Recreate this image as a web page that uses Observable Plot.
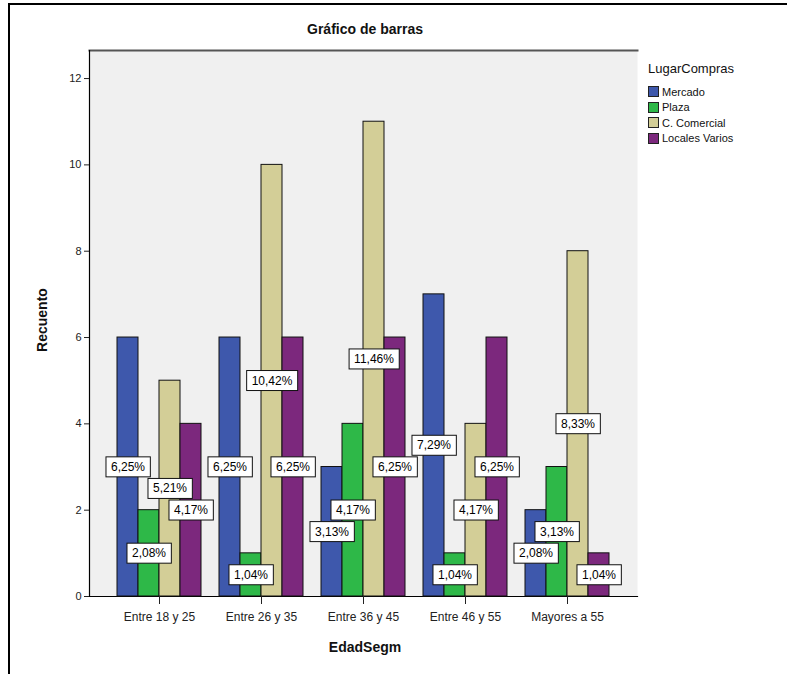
<!DOCTYPE html>
<html>
<head>
<meta charset="utf-8">
<script src="https://cdn.jsdelivr.net/npm/d3@7"></script>
<script src="https://cdn.jsdelivr.net/npm/@observablehq/plot@0.6"></script>
<style>
  body { margin: 0; background: #fff; font-family: "Liberation Sans", Arial, sans-serif; }
  #wrap { position: relative; width: 787px; height: 674px; overflow: hidden; background: #fff; }
  #frame { position: absolute; left: 8px; top: 3px; width: 790px; height: 700px; border-top: 2px solid #000; border-left: 2px solid #000; }
  .layer { position: absolute; left: 0; top: 0; }
  .title { position: absolute; left: 265px; width: 200px; top: 21px; text-align: center; font-weight: bold; font-size: 14px; color: #111; }
  .xlab { position: absolute; left: 265px; width: 200px; top: 639px; text-align: center; font-weight: bold; font-size: 14px; color: #111; }
  .ylab { position: absolute; left: 42px; top: 320px; transform: translate(-50%, -50%) rotate(-90deg); font-weight: bold; font-size: 14px; color: #111; white-space: nowrap; }
  #legend { position: absolute; left: 648px; top: 61px; font-size: 11px; color: #111; }
  #legend .lt { font-size: 13px; margin-bottom: 8px; }
  #legend .it { display: flex; align-items: center; height: 15.5px; }
  #legend .sw { width: 11px; height: 11px; margin-right: 3px; box-sizing: border-box; border: 1px solid #222; }
</style>
</head>
<body>
<div id="wrap">
  <div id="frame"></div>
  <div class="title">Gráfico de barras</div>
  <div class="ylab">Recuento</div>
  <div class="xlab">EdadSegm</div>
  <div id="legend"></div>
  <div id="base" class="layer"></div>
  <div id="chart" class="layer"></div>
</div>
<script>
const categories = ["Entre 18 y 25", "Entre 26 y 35", "Entre 36 y 45", "Entre 46 y 55", "Mayores a 55"];
const series = ["Mercado", "Plaza", "C. Comercial", "Locales Varios"];
const mercado = [6, 6, 3, 7, 2];
const plaza = [2, 1, 4, 1, 3];
const comercial = [5, 10, 11, 4, 8];
const locales = [4, 6, 6, 6, 1];
const colors = ["#3e58ac", "#2eb848", "#d3ce97", "#7c287d"];
const yTicks = [0, 2, 4, 6, 8, 10, 12];
const legendTitle = "LugarCompras";

const seriesValues = [mercado, plaza, comercial, locales];
const total = d3.sum(seriesValues.flat());
const table = [];
categories.forEach((cat, i) => {
  series.forEach((s, j) => {
    const v = seriesValues[j][i];
    table.push({cat, serie: s, value: v, pct: (v / total * 100).toFixed(2).replace(".", ",") + "%"});
  });
});

const common = {
  width: 787,
  height: 674,
  marginLeft: 89,
  marginRight: 150,
  marginTop: 50,
  marginBottom: 78,
  style: {background: "transparent", fontFamily: "Liberation Sans, Arial, sans-serif", color: "#222"}
};
const yScale = {domain: [0, 12.65], label: null};

// base layer: plot background, axis lines and y axis
const base = Plot.plot({
  ...common,
  y: {...yScale, axis: null},
  marks: [
    Plot.frame({fill: "#f0f0f0", stroke: "none"}),
    Plot.frame({anchor: "top", stroke: "#555", strokeWidth: 2}),
    Plot.frame({anchor: "left", stroke: "#000", strokeWidth: 1.2}),
    Plot.frame({anchor: "bottom", stroke: "#000", strokeWidth: 1.2}),
    Plot.axisY({ticks: yTicks, tickSize: 5, tickPadding: 3, fontSize: 11, label: null})
  ]
});
document.getElementById("base").appendChild(base);

// main layer: grouped bars
const chart = Plot.plot({
  ...common,
  fx: {domain: categories, paddingInner: 0.16, paddingOuter: 0.25, label: null},
  x: {domain: series, padding: 0, axis: null},
  y: {...yScale, axis: null},
  color: {domain: series, range: colors},
  marks: [
    Plot.barY(table, {fx: "cat", x: "serie", y: "value", fill: "serie", stroke: "#111", strokeWidth: 1}),
    Plot.axisFx({anchor: "bottom", tickSize: 8, tickPadding: 8, fontSize: 12, label: null}),
    Plot.text(table, {fx: "cat", x: "serie", y: d => d.value / 2, text: "pct", fontSize: 12, fill: "#000", className: "pct-labels"})
  ]
});
document.getElementById("chart").appendChild(chart);

// white boxes behind the percentage labels
const svg = chart.tagName.toLowerCase() === "svg" ? chart : chart.querySelector("svg");
svg.querySelectorAll(".pct-labels text").forEach(t => {
  const b = t.getBBox();
  const r = document.createElementNS("http://www.w3.org/2000/svg", "rect");
  r.setAttribute("x", b.x - 5);
  r.setAttribute("y", b.y - 3);
  r.setAttribute("width", b.width + 10);
  r.setAttribute("height", b.height + 6);
  r.setAttribute("fill", "#fff");
  r.setAttribute("stroke", "#111");
  r.setAttribute("stroke-width", 1);
  const tr = t.getAttribute("transform");
  if (tr) r.setAttribute("transform", tr);
  t.parentNode.insertBefore(r, t);
});

// legend
const lg = document.getElementById("legend");
const lt = document.createElement("div");
lt.className = "lt";
lt.textContent = legendTitle;
lg.appendChild(lt);
series.forEach((s, j) => {
  const it = document.createElement("div");
  it.className = "it";
  const sw = document.createElement("span");
  sw.className = "sw";
  sw.style.background = colors[j];
  const tx = document.createElement("span");
  tx.textContent = s;
  it.appendChild(sw);
  it.appendChild(tx);
  lg.appendChild(it);
});
</script>
</body>
</html>
